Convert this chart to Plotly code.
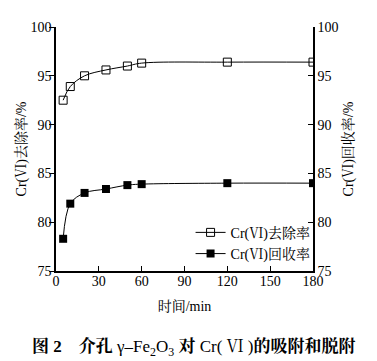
import plotly.graph_objects as go

time_min = [5, 10, 20, 35, 50, 60, 120, 180]
removal = [92.5, 93.9, 95.0, 95.6, 96.0, 96.3, 96.4, 96.4]
recovery = [78.3, 81.9, 83.0, 83.4, 83.8, 83.9, 84.0, 84.0]
x_ticks = [0, 30, 60, 90, 120, 150, 180]
y_ticks = [75, 80, 85, 90, 95, 100]

serif = "Liberation Serif, Noto Serif CJK SC, Noto Sans CJK SC, serif"

fig = go.Figure()
fig.add_trace(go.Scatter(
    x=time_min, y=removal, name="Cr(Ⅵ)去除率", mode="lines+markers",
    line=dict(color="black", width=1, shape="spline"),
    marker=dict(symbol="square-open", size=8, color="black", line=dict(width=1)),
))
fig.add_trace(go.Scatter(
    x=time_min, y=recovery, name="Cr(Ⅵ)回收率", mode="lines+markers", yaxis="y2",
    line=dict(color="black", width=1, shape="spline"),
    marker=dict(symbol="square", size=8, color="black"),
))

axis_common = dict(range=[75, 100], tickvals=y_ticks, showgrid=False, zeroline=False,
                   showline=True, linecolor="black", linewidth=1.5, ticklen=5,
                   tickcolor="black", tickfont=dict(family=serif, size=14, color="black"))

# page body has an 8px margin, so the figure is 8px smaller and margins shifted
fig.update_layout(
    width=369, height=353,
    margin=dict(l=45, r=64, t=12, b=90),
    paper_bgcolor="white", plot_bgcolor="white",
    font=dict(family=serif, color="black", size=14),
    showlegend=True,
    legend=dict(x=1.01, y=0.005, xanchor="right", yanchor="bottom",
                bgcolor="rgba(0,0,0,0)", font=dict(family=serif, size=14),
                tracegroupgap=0, itemwidth=30),
    xaxis=dict(range=[0, 180], tickvals=x_ticks, showgrid=False, zeroline=False,
               showline=True, linecolor="black", linewidth=1.5, ticks="inside", ticklen=5,
               tickcolor="black", tickfont=dict(family=serif, size=14, color="black"),
               ticklabelstandoff=-4,
               title=dict(text="时间/min", font=dict(family=serif, size=14), standoff=14)),
    yaxis=dict(**axis_common, ticks="outside", ticklabelstandoff=-5,
               title=dict(text="Cr(Ⅵ)去除率/%", font=dict(family=serif, size=14), standoff=1)),
    yaxis2=dict(**axis_common, ticks="inside", overlaying="y", side="right",
                title=dict(text="Cr(Ⅵ)回收率/%", font=dict(family=serif, size=14), standoff=6)),
)

fig.add_annotation(
    x=0.537, y=-0.316, xref="paper", yref="paper", showarrow=False, xanchor="center", yanchor="middle",
    text="<b>图 2</b>    <b>介孔</b> γ–Fe<sub>2</sub>O<sub>3</sub> <b>对</b> Cr( Ⅵ )<b>的吸附和脱附</b>",
    font=dict(family=serif, size=17, color="black"),
)

fig.write_html("out.html")
